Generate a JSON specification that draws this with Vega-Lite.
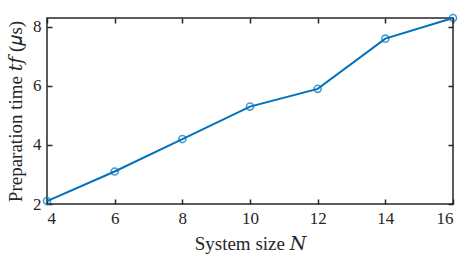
{
  "$schema": "https://vega.github.io/schema/vega-lite/v6.json",
  "width": 406,
  "height": 186,
  "autosize": {"type": "none"},
  "padding": {"left": 47, "top": 18, "right": 15, "bottom": 58},
  "config": {
    "view": {"stroke": "#262626", "strokeWidth": 1.5},
    "font": "Liberation Serif, DejaVu Serif",
    "axis": {
      "grid": false,
      "domain": false,
      "tickColor": "#262626",
      "tickWidth": 1.5,
      "tickSize": -5,
      "labelFont": "Liberation Serif, DejaVu Serif",
      "labelFontSize": 17,
      "labelColor": "#262626",
      "titleFont": "Liberation Serif, DejaVu Serif",
      "titleFontSize": 19,
      "titleFontWeight": "normal",
      "titleColor": "#262626"
    }
  },
  "data": {
    "values": [
      {"N": 4, "t": 2.1},
      {"N": 6, "t": 3.1},
      {"N": 8, "t": 4.2},
      {"N": 10, "t": 5.3},
      {"N": 12, "t": 5.9},
      {"N": 14, "t": 7.6},
      {"N": 16, "t": 8.3}
    ]
  },
  "layer": [
    {
      "layer": [
        {
          "mark": {"type": "line", "color": "#0072BD", "strokeWidth": 2},
          "encoding": {
            "x": {"field": "N", "type": "quantitative", "scale": {"domain": [4, 16], "nice": false},
                  "axis": {"values": [4, 6, 8, 10, 12, 14, 16], "title": "System size 𝑁", "labelPadding": 11, "titlePadding": 8}},
            "y": {"field": "t", "type": "quantitative", "scale": {"domain": [2, 8.3], "nice": false, "zero": false},
                  "axis": {"values": [2, 4, 6, 8], "title": "Preparation time 𝑡𝑓 (𝜇s)", "labelPadding": 11, "titlePadding": 7}}
          }
        },
        {
          "mark": {"type": "point", "shape": "circle", "filled": false, "color": "#0072BD", "size": 50, "strokeWidth": 1.6, "clip": false},
          "encoding": {
            "x": {"field": "N", "type": "quantitative"},
            "y": {"field": "t", "type": "quantitative"}
          }
        }
      ]
    },
    {
      "mark": {"type": "point", "opacity": 0},
      "encoding": {
        "x": {"field": "N", "type": "quantitative", "scale": {"domain": [4, 16], "nice": false},
              "axis": {"orient": "top", "values": [4, 6, 8, 10, 12, 14, 16], "labels": false, "title": null}},
        "y": {"field": "t", "type": "quantitative", "scale": {"domain": [2, 8.3], "nice": false, "zero": false},
              "axis": {"orient": "right", "values": [2, 4, 6, 8], "labels": false, "title": null}}
      }
    }
  ],
  "resolve": {"scale": {"x": "independent", "y": "independent"}}
}
